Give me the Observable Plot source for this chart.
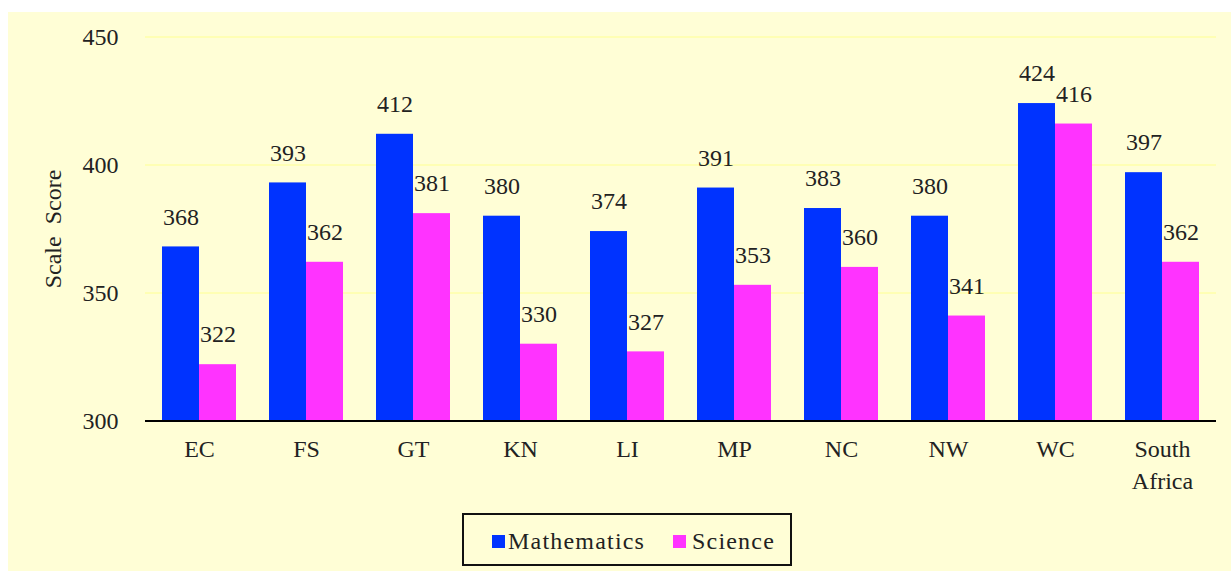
<!DOCTYPE html>
<html>
<head>
<meta charset="utf-8">
<script src="https://cdn.jsdelivr.net/npm/d3@7"></script>
<script src="https://cdn.jsdelivr.net/npm/@observablehq/plot@0.6"></script>
<style>
  body { margin: 0; background: #ffffff; font-family: "Liberation Serif", "Times New Roman", serif; }
  #wrap { position: absolute; left: 8px; top: 12px; width: 1223px; height: 559px; background: #FFFED6; }
  #chart { position: absolute; left: 0; top: 0; }
  #legend { position: absolute; left: 454px; top: 501px; width: 330px; height: 53px; box-sizing: border-box; border: 2px solid #111; }
  #legend .sw { position: absolute; width: 13px; height: 13px; top: 20px; }
  #legend .lb { position: absolute; top: 13px; font-size: 24px; line-height: 26px; color: #222; letter-spacing: 1.2px; white-space: nowrap; }
</style>
</head>
<body>
<div id="wrap">
  <div id="chart"></div>
  <div id="legend"></div>
</div>
<script>
const regions = ["EC", "FS", "GT", "KN", "LI", "MP", "NC", "NW", "WC", "South Africa"];
const mathScores = [368, 393, 412, 380, 374, 391, 383, 380, 424, 397];
const scienceScores = [322, 362, 381, 330, 327, 353, 360, 341, 416, 362];
const subjects = ["Mathematics", "Science"];
const subjectColors = ["#0033FF", "#FF33FF"];
const yTicks = [300, 350, 400, 450];
const xTickLabels = ["EC", "FS", "GT", "KN", "LI", "MP", "NC", "NW", "WC", "South\nAfrica"];

const mathData = regions.map((r, i) => ({region: r, subject: subjects[0], score: mathScores[i]}));
const sciData = regions.map((r, i) => ({region: r, subject: subjects[1], score: scienceScores[i]}));

function build(half) {
  return Plot.plot({
    width: 1223,
    height: 490,
    marginLeft: 137,
    marginRight: 15,
    marginTop: 24.5,
    marginBottom: 81.5,
    style: {background: "transparent", fontFamily: "'Liberation Serif', 'Times New Roman', serif", fontSize: "24px", color: "#222"},
    x: {domain: regions, paddingInner: 0.31, paddingOuter: 0.145},
    y: {domain: [yTicks[0], yTicks[yTicks.length - 1]]},
    marks: [
      Plot.ruleY(yTicks.slice(1), {stroke: "#FFFFA8", strokeWidth: 1.5}),
      Plot.barY(mathData, {x: "region", y1: yTicks[0], y2: "score", fill: subjectColors[0], insetLeft: 0, insetRight: half}),
      Plot.barY(sciData, {x: "region", y1: yTicks[0], y2: "score", fill: subjectColors[1], insetLeft: half, insetRight: 0}),
      Plot.text(mathData, {x: "region", y: "score", text: d => String(d.score), dx: -half / 2, dy: -30, fontSize: 24, fill: "#222"}),
      Plot.text(sciData, {x: "region", y: "score", text: d => String(d.score), dx: half / 2, dy: -30, fontSize: 24, fill: "#222"}),
      Plot.ruleY([yTicks[0]], {stroke: "#000", strokeWidth: 2}),
      Plot.axisX({tickSize: 0, tickPadding: 13, fontSize: 24, label: null, lineHeight: 1.33,
        tickFormat: d => xTickLabels[regions.indexOf(d)]}),
      Plot.axisY({ticks: yTicks, tickSize: 0, tickPadding: 27, fontSize: 24,
        label: "Scale  Score", labelArrow: "none", labelAnchor: "center", labelOffset: 102})
    ]
  });
}

const first = build(0);
const bw = first.scale("x").bandwidth;
const chart = build(bw / 2);
document.getElementById("chart").appendChild(chart);

// legend
const legend = document.getElementById("legend");
const legendPos = [{sw: 28, lb: 44}, {sw: 209, lb: 228}];
subjects.forEach((s, i) => {
  const sw = document.createElement("span");
  sw.className = "sw";
  sw.style.left = legendPos[i].sw + "px";
  sw.style.background = subjectColors[i];
  legend.appendChild(sw);
  const lb = document.createElement("span");
  lb.className = "lb";
  lb.style.left = legendPos[i].lb + "px";
  lb.textContent = s;
  legend.appendChild(lb);
});
</script>
</body>
</html>
